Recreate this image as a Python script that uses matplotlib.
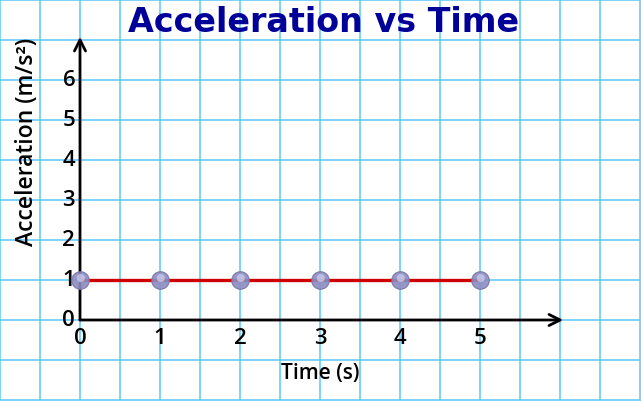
import matplotlib
matplotlib.use("Agg")
import matplotlib.pyplot as plt
import numpy as np

time_s = [0, 1, 2, 3, 4, 5]
accel = [1, 1, 1, 1, 1, 1]
x_ticks = [0, 1, 2, 3, 4, 5]
y_ticks = [0, 1, 2, 3, 4, 5, 6]

W, H = 641, 401
fig = plt.figure(figsize=(W / 100, H / 100), dpi=100)
ax = fig.add_axes([0, 0, 1, 1])
# pixel mapping: x=0 at px 80, 80 px/unit; y=0 at py 320, 40 px/unit
ax.set_xlim(-80 / 80, (W - 80) / 80)
ax.set_ylim((320 - H) / 40, 320 / 40)
ax.axis("off")

grid_c = "#66ccff"
for gx in np.arange(-1, 7.01, 0.5):
    ax.axvline(gx, color=grid_c, lw=1.2, zorder=0)
for gy in np.arange(-2, 8.01, 1):
    ax.axhline(gy, color=grid_c, lw=1.2, zorder=0)

# axes arrows
ax.annotate("", xy=(0, 7.08), xytext=(0, 0),
            arrowprops=dict(arrowstyle="->", color="black", lw=2, mutation_scale=20,
                            shrinkA=0, shrinkB=0), zorder=3)
ax.annotate("", xy=(6.04, 0), xytext=(0, 0),
            arrowprops=dict(arrowstyle="->", color="black", lw=2, mutation_scale=20,
                            shrinkA=0, shrinkB=0), zorder=3)

fam = ["Open Sans", "DejaVu Sans"]
for t in x_ticks:
    ax.text(t, -0.47, str(t), ha="center", va="center", fontsize=16, fontweight=600,
            family=fam, color="black", zorder=4)
for t in y_ticks:
    ax.text(-0.06, t, str(t), ha="right", va="center", fontsize=16, fontweight=600,
            family=fam, color="black", zorder=4)

ax.plot(time_s, accel, color="#cc0000", lw=2.4, zorder=5)
ax.scatter(time_s, accel, s=160, facecolor="#8c8cc0", edgecolor="#7474aa", lw=0.8,
           alpha=0.9, zorder=6)
ax.scatter(np.array(time_s) + 0.01, np.array(accel) + 0.05, s=35, facecolor="#cfcfee",
           edgecolor="none", alpha=0.7, zorder=7)

fig.text(324 / W, 1 - 22 / H, "Acceleration vs Time", ha="center", va="center",
         fontsize=24, fontweight="bold", color="#000099")
fig.text(320 / W, 1 - 374 / H, "Time (s)", ha="center", va="center", fontsize=15,
         fontweight=600, family=fam, color="black")
fig.text(27 / W, 1 - 142 / H, "Acceleration (m/s²)", ha="center", va="center",
         rotation=90, fontsize=16.5, fontweight=600, family=fam, color="black")

fig.savefig("out.png", dpi=100)
